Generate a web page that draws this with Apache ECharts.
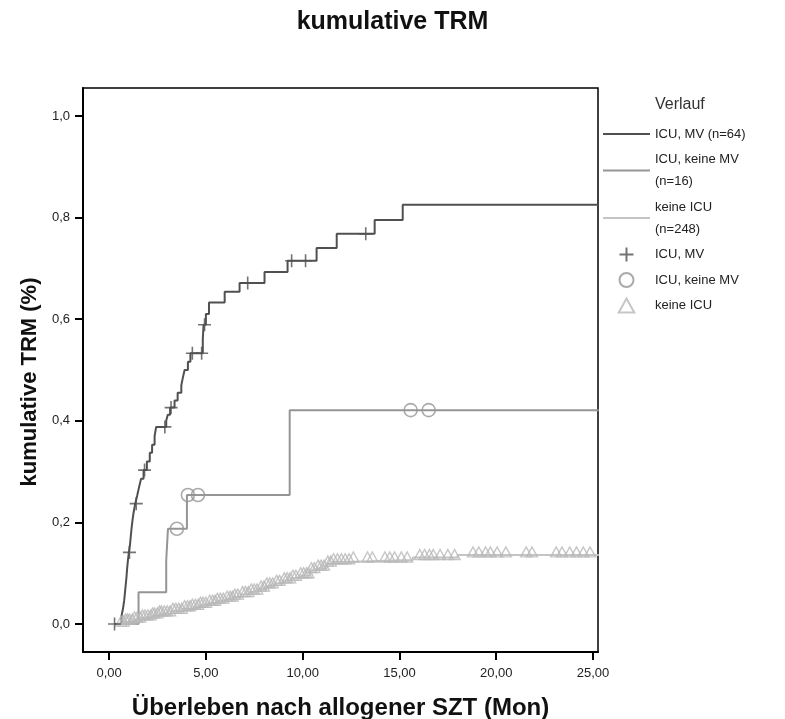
<!DOCTYPE html>
<html>
<head>
<meta charset="utf-8">
<title>kumulative TRM</title>
<script src="https://cdn.jsdelivr.net/npm/echarts@6/dist/echarts.min.js"></script>
<style>
html, body { margin: 0; padding: 0; background: #fff; }
#main { width: 785px; height: 719px; }
</style>
</head>
<body>
<div id="main"></div>
<script>
// Stufen der Kurven: Zeit (Monate) und kumulative TRM nach dem Ereignis
var mvX = [0.28, 0.64, 0.72, 0.78, 0.82, 0.86, 0.90, 0.93, 0.97, 1.02, 1.08, 1.12, 1.16, 1.21, 1.27, 1.35, 1.45, 1.55, 1.65, 1.78, 1.95, 2.10, 2.22, 2.35, 2.43, 2.95, 3.03, 3.15, 3.38, 3.54, 3.73, 3.81, 3.90, 4.07, 4.20, 4.84, 4.88, 5.00, 5.16, 5.97, 6.74, 8.03, 9.22, 10.72, 11.76, 13.72, 15.17, 25.3];
var mvY = [0, 0.016, 0.031, 0.047, 0.063, 0.078, 0.094, 0.109, 0.125, 0.141, 0.157, 0.173, 0.189, 0.205, 0.221, 0.237, 0.253, 0.270, 0.286, 0.303, 0.320, 0.337, 0.353, 0.370, 0.388, 0.400, 0.412, 0.426, 0.440, 0.455, 0.470, 0.485, 0.500, 0.516, 0.533, 0.561, 0.589, 0.610, 0.633, 0.654, 0.671, 0.693, 0.715, 0.740, 0.768, 0.795, 0.825, 0.825];
var mvCens = [0.28, 1.05, 1.40, 1.83, 2.88, 3.20, 4.30, 4.78, 4.93, 7.16, 9.43, 10.15, 13.26];

var kmX = [0.45, 1.52, 2.95, 3.04, 4.02, 9.33, 25.3];
var kmY = [0, 0.0625, 0.125, 0.1875, 0.254, 0.421, 0.421];
var kmCens = [3.50, 4.07, 4.59, 15.58, 16.51];

var niX = [0.44, 0.80, 1.30, 1.70, 2.20, 2.60, 3.20, 3.80, 4.20, 4.70, 5.10, 5.55, 6.00, 6.40, 6.80, 7.26, 7.70, 8.14, 8.55, 8.97, 9.40, 9.84, 10.36, 10.72, 11.24, 11.55, 12.59, 15.69, 18.01, 25.3];
var niY = [0, 0.004, 0.008, 0.012, 0.016, 0.020, 0.025, 0.030, 0.033, 0.037, 0.041, 0.045, 0.049, 0.053, 0.058, 0.063, 0.069, 0.075, 0.080, 0.085, 0.090, 0.095, 0.105, 0.110, 0.118, 0.1226, 0.126, 0.131, 0.136, 0.136];
var niCens = [0.62, 0.75, 0.85, 0.95, 1.05, 1.20, 1.32, 1.45, 1.60, 1.72, 1.85, 2.00, 2.15, 2.25, 2.35, 2.50, 2.60, 2.70, 2.85, 3.00, 3.15, 3.30, 3.45, 3.60, 3.75, 3.90, 4.05, 4.18, 4.30, 4.45, 4.60, 4.72, 4.85, 5.00, 5.20, 5.35, 5.48, 5.60, 5.75, 5.90, 6.10, 6.25, 6.38, 6.50, 6.65, 6.90, 7.05, 7.20, 7.35, 7.50, 7.65, 7.85, 8.00, 8.15, 8.30, 8.45, 8.65, 8.80, 9.05, 9.20, 9.35, 9.50, 9.65, 9.90, 10.05, 10.20, 10.30, 10.45, 10.60, 10.80, 10.95, 11.10, 11.30, 11.45,
	11.60, 11.80, 12.00, 12.20, 12.40, 12.62, 13.35, 13.60, 14.25, 14.50, 14.75, 15.10, 15.40, 16.05, 16.30, 16.55, 16.75, 17.10, 17.50, 17.85, 18.80, 19.10, 19.45, 19.70, 20.05, 20.50, 21.55, 21.85, 23.10, 23.40, 23.80, 24.15, 24.50, 24.85];

var xTicks = [0, 5, 10, 15, 20, 25];
var yTicks = [0, 0.2, 0.4, 0.6, 0.8, 1.0];

var legendNames = ["ICU, MV (n=64)", "ICU, keine MV\n(n=16)", "keine ICU\n(n=248)", "ICU, MV", "ICU, keine MV", "keine ICU"];

var FONT = "Liberation Sans, Arial, sans-serif";

function pairs(xs, ys) {
	return xs.map(function(x, i) { return [x, ys[i]]; });
}
// zensierte Fälle liegen auf der Kurve
function onCurve(xs, ys, cens) {
	return cens.map(function(c) {
		var v = ys[0];
		for (var i = 0; i < xs.length; i++) {
			if (xs[i] <= c) v = ys[i];
		}
		return [c, v];
	});
}

var plusPath = "path://M5,0L5,10M0,5L10,5";
var triPath = "path://M5,0L10,9L0,9Z";
var lineIcon = "path://M0,0L48,0L48,2L0,2Z"; // nur Strich im Legendeneintrag

var legendData = legendNames.map(function(n, i) {
	return i < 3 ? { name: n, icon: lineIcon } : { name: n };
});

var myChart = echarts.init(document.getElementById("main"));
var option = {
	backgroundColor: "#fff",
	animation: false,
	title: [
		{
			text: "kumulative TRM",
			left: "center",
			top: 10,
			padding: 0,
			textStyle: { fontFamily: FONT, fontSize: 25, fontWeight: "bold", color: "#111" }
		},
		{
			text: "Verlauf",
			left: 655,
			top: 97,
			padding: 0,
			textStyle: { fontFamily: FONT, fontSize: 16, fontWeight: "normal", color: "#333" }
		}
	],
	legend: {
		orient: "vertical",
		left: 603,
		top: 123,
		padding: 0,
		itemGap: 3.5,
		itemWidth: 47,
		itemHeight: 14,
		data: legendData,
		textStyle: { fontFamily: FONT, fontSize: 13, color: "#222", lineHeight: 22 }
	},
	grid: {
		left: 83,
		right: 187,
		top: 88,
		bottom: 67,
		outerBoundsMode: "none",
		show: true,
		borderColor: "#000",
		borderWidth: 1.5
	},
	xAxis: {
		type: "value",
		min: -1.35,
		max: 25.26,
		name: "Überleben nach allogener SZT (Mon)",
		nameLocation: "middle",
		nameGap: 44,
		nameTextStyle: { fontFamily: FONT, fontSize: 24, fontWeight: "bold", color: "#111" },
		splitLine: { show: false },
		axisLine: { show: true, onZero: false, lineStyle: { color: "#000", width: 2 } },
		axisTick: { show: true, length: 8, customValues: xTicks, lineStyle: { color: "#000", width: 2 } },
		axisLabel: {
			customValues: xTicks,
			margin: 15,
			fontFamily: FONT,
			fontSize: 13,
			color: "#222",
			formatter: function(v) { return v.toFixed(2).replace(".", ","); }
		}
	},
	yAxis: {
		type: "value",
		min: -0.055,
		max: 1.055,
		name: "kumulative TRM (%)",
		nameLocation: "middle",
		nameGap: 42,
		nameTextStyle: { fontFamily: FONT, fontSize: 22, fontWeight: "bold", color: "#111", padding: [0, 24, 0, 0] },
		splitLine: { show: false },
		axisLine: { show: true, onZero: false, lineStyle: { color: "#000", width: 2 } },
		axisTick: { show: true, length: 8, customValues: yTicks, lineStyle: { color: "#000", width: 2 } },
		axisLabel: {
			customValues: yTicks,
			margin: 13,
			fontFamily: FONT,
			fontSize: 13,
			color: "#222",
			formatter: function(v) { return v.toFixed(1).replace(".", ","); }
		}
	},
	series: [
		{
			name: legendNames[0],
			type: "line",
			step: "end",
			symbol: "none",
			data: pairs(mvX, mvY),
			lineStyle: { color: "#505050", width: 2 },
			itemStyle: { color: "#505050" }
		},
		{
			name: legendNames[1],
			type: "line",
			step: "end",
			symbol: "none",
			data: pairs(kmX, kmY),
			lineStyle: { color: "#959595", width: 2 },
			itemStyle: { color: "#959595" }
		},
		{
			name: legendNames[2],
			type: "line",
			step: "end",
			symbol: "none",
			data: pairs(niX, niY),
			lineStyle: { color: "#c4c4c4", width: 2 },
			itemStyle: { color: "#c4c4c4" }
		},
		{
			name: legendNames[3],
			type: "scatter",
			symbol: plusPath,
			symbolSize: 13,
			data: onCurve(mvX, mvY, mvCens),
			itemStyle: { color: "none", borderColor: "#505050", borderWidth: 1.6 },
			z: 4
		},
		{
			name: legendNames[4],
			type: "scatter",
			symbol: "circle",
			symbolSize: 13,
			data: onCurve(kmX, kmY, kmCens),
			itemStyle: { color: "rgba(0,0,0,0)", borderColor: "#959595", borderWidth: 1.6 },
			z: 4
		},
		{
			name: legendNames[5],
			type: "scatter",
			symbol: triPath,
			symbolSize: [11, 10],
			symbolOffset: [0, -3],
			data: onCurve(niX, niY, niCens),
			itemStyle: { color: "rgba(0,0,0,0)", borderColor: "#b8b8b8", borderWidth: 1.4 },
			z: 3
		}
	]
};
myChart.setOption(option);
</script>
</body>
</html>
